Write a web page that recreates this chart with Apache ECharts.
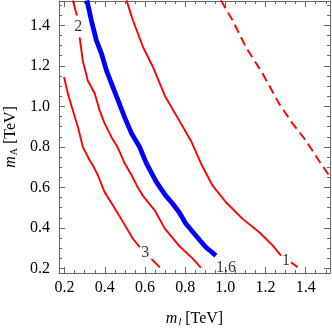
<!DOCTYPE html>
<html>
<head>
<meta charset="utf-8">
<script src="https://cdn.jsdelivr.net/npm/echarts@6/dist/echarts.min.js"></script>
<style>
  html, body { margin: 0; padding: 0; background: #fff; }
  #chart { width: 332px; height: 329px; }
</style>
</head>
<body>
<div id="chart"></div>
<script>
// axis ranges and tick labels
const xRange = [0.172, 1.521]
const yRange = [0.178, 1.52]
const xMajor = [0.2, 0.4, 0.6, 0.8, 1.0, 1.2, 1.4]
const yMajor = [0.2, 0.4, 0.6, 0.8, 1.0, 1.2, 1.4]

// contour curves (null = gap under a contour label)
const curve3 = [[0.197, 1.145], [0.216, 1.063], [0.241, 0.980], [0.266, 0.898], [0.291, 0.799], [0.325, 0.733], [0.341, 0.709], [0.366, 0.659], [0.399, 0.577], [0.441, 0.511], [0.491, 0.429], [0.540, 0.347], [0.574, 0.305], null, [0.632, 0.248], [0.674, 0.206]]
const curve2 = [[0.241, 1.523], [0.261, 1.449], null, [0.275, 1.341], [0.290, 1.227], [0.315, 1.128], [0.350, 1.064], [0.374, 0.980], [0.399, 0.916], [0.434, 0.847], [0.464, 0.798], [0.499, 0.719], [0.534, 0.659], [0.559, 0.610], [0.589, 0.560], [0.649, 0.486], [0.698, 0.398], [0.768, 0.314], [0.838, 0.249], [0.878, 0.205]]
const curve16 = [[0.311, 1.523], [0.333, 1.425], [0.358, 1.326], [0.383, 1.262], [0.408, 1.178], [0.433, 1.114], [0.466, 1.030], [0.499, 0.946], [0.533, 0.867], [0.574, 0.798], [0.607, 0.719], [0.657, 0.626], [0.703, 0.560], [0.737, 0.521], [0.770, 0.478], [0.803, 0.422], [0.853, 0.363], [0.903, 0.305], [0.953, 0.264]]
const curve1 = [[0.508, 1.523], [0.540, 1.425], [0.590, 1.293], [0.640, 1.194], [0.702, 1.046], [0.770, 0.931], [0.828, 0.832], [0.880, 0.716], [0.936, 0.610], [1.003, 0.527], [1.086, 0.445], [1.169, 0.379], [1.235, 0.314], [1.277, 0.264], null, [1.327, 0.231], [1.360, 0.206]]
const curveDashed = [[0.978, 1.523], [1.036, 1.425], [1.102, 1.293], [1.186, 1.161], [1.268, 1.013], [1.335, 0.915], [1.401, 0.832], [1.476, 0.717], [1.521, 0.654]]

// contour labels: x, y, text
const contourLabels = [[0.601, 0.277, '3'], [0.268, 1.394, '2'], [1.003, 0.205, '1.6'], [1.302, 0.240, '1']]

const FONT = 'Liberation Serif'
const FRAME = '#666'

// minor ticks every 0.05
const minorTicks = []
for (let i = 4; i <= 30; i++) minorTicks.push(+(i * 0.05).toFixed(2))

const gap = d => d === null ? ['-', '-'] : d

const makeAxis = (range, pos, major, withLabels, minor) => ({
  type: 'value',
  position: pos,
  min: range[0],
  max: range[1],
  splitLine: { show: false },
  axisLine: { show: !minor, onZero: false, lineStyle: { color: FRAME, width: 1 } },
  axisTick: {
    show: true,
    inside: true,
    length: minor ? 3 : 6,
    customValues: minor ? minorTicks : major,
    lineStyle: { color: FRAME, width: 1 }
  },
  axisLabel: {
    show: withLabels,
    customValues: major,
    margin: pos === 'bottom' ? 7 : 9,
    color: '#000',
    fontFamily: FONT,
    fontSize: 16,
    formatter: v => v.toFixed(1)
  }
})

const chart = echarts.init(document.getElementById('chart'))

const xAxes = [
  makeAxis(xRange, 'bottom', xMajor, true, false),
  makeAxis(xRange, 'bottom', xMajor, false, true),
  makeAxis(xRange, 'top', xMajor, false, false),
  makeAxis(xRange, 'top', xMajor, false, true)
]
xAxes[0].name = '{m|m}{s|l} [TeV]'
xAxes[0].nameLocation = 'middle'
xAxes[0].nameGap = 37
xAxes[0].nameTextStyle = {
  color: '#000', fontFamily: FONT, fontSize: 16,
  rich: {
    m: { fontFamily: FONT, fontStyle: 'italic', fontSize: 16, color: '#000' },
    s: { fontFamily: FONT, fontStyle: 'italic', fontSize: 10, color: '#000', padding: [7, 0, 0, 1] }
  }
}

const yAxes = [
  makeAxis(yRange, 'left', yMajor, true, false),
  makeAxis(yRange, 'left', yMajor, false, true),
  makeAxis(yRange, 'right', yMajor, false, false),
  makeAxis(yRange, 'right', yMajor, false, true)
]
yAxes[0].name = '{m|m}{s|A} [TeV]'
yAxes[0].nameLocation = 'middle'
yAxes[0].nameRotate = 90
yAxes[0].nameGap = 38
yAxes[0].nameTextStyle = {
  color: '#000', fontFamily: FONT, fontSize: 16,
  rich: {
    m: { fontFamily: FONT, fontStyle: 'italic', fontSize: 16, color: '#000' },
    s: { fontFamily: FONT, fontSize: 10, color: '#000', padding: [7, 0, 0, 1] }
  }
}

const redLine = (data, type) => ({
  type: 'line',
  data: data.map(gap),
  showSymbol: false,
  connectNulls: false,
  lineStyle: { color: '#ff0000', width: 1.9, type: type || 'solid' },
  itemStyle: { color: '#ff0000' }
})

const option = {
  animation: false,
  grid: { left: 59, right: 2, top: 1, bottom: 56, containLabel: false, outerBoundsMode: 'none' },
  xAxis: xAxes,
  yAxis: yAxes,
  series: [
    redLine(curve3),
    redLine(curve2),
    redLine(curve1),
    redLine(curveDashed, [9, 5]),
    {
      type: 'line',
      data: curve16,
      showSymbol: false,
      lineStyle: { color: '#0000ff', width: 4.8 },
      itemStyle: { color: '#0000ff' }
    },
    {
      type: 'scatter',
      data: contourLabels,
      symbolSize: 1,
      itemStyle: { color: 'rgba(0,0,0,0)' },
      label: {
        show: true,
        position: 'inside',
        formatter: p => p.value[2],
        color: '#000',
        textBorderWidth: 0,
        fontFamily: FONT,
        fontSize: 16
      }
    }
  ]
}

chart.setOption(option)
</script>
</body>
</html>
